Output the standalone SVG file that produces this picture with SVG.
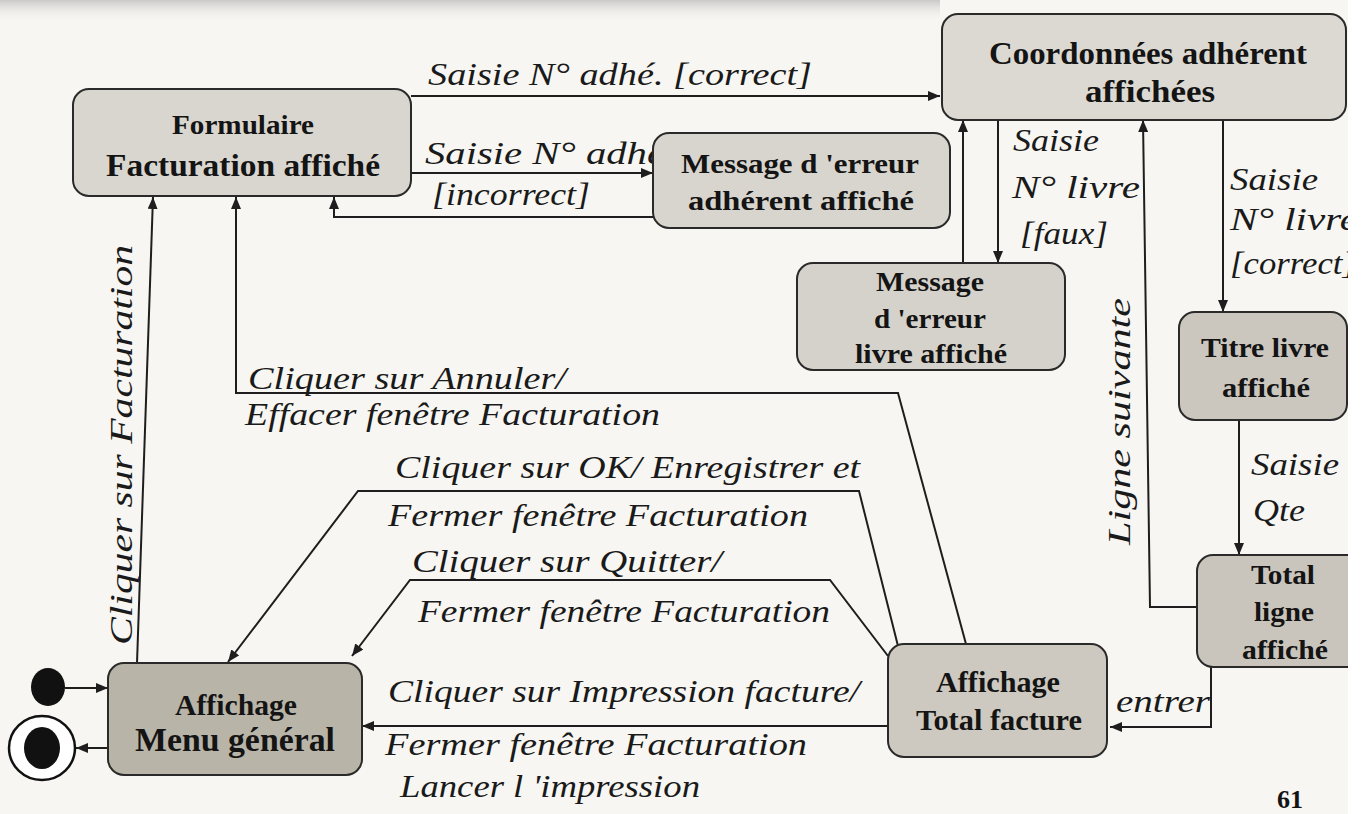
<svg xmlns="http://www.w3.org/2000/svg" width="1364" height="814" viewBox="0 0 1364 814">
<defs>
<marker id="arr" viewBox="0 0 12 10" refX="12" refY="5" markerWidth="12" markerHeight="10" markerUnits="userSpaceOnUse" orient="auto">
<path d="M0,0 L12,5 L0,10 Z" fill="#1e1e1e"/>
</marker>
<linearGradient id="topshade" x1="0" y1="0" x2="0" y2="1">
<stop offset="0" stop-color="#c9c9c9"/>
<stop offset="1" stop-color="#f7f6f2" stop-opacity="0"/>
</linearGradient>
</defs>
<style>
.node rect{stroke:#2a2a2a;stroke-width:2}
.nt{font-family:"Liberation Serif","Times New Roman",serif;font-weight:bold;fill:#141414;text-anchor:middle}
.lb{font-family:"Liberation Serif","Times New Roman",serif;font-style:italic;fill:#1a1a1a;font-size:32px}
.cn{fill:none;stroke:#1e1e1e;stroke-width:2}
.ar{marker-end:url(#arr)}
</style>
<rect x="0" y="0" width="1364" height="814" fill="#f7f6f2"/>
<rect x="0" y="0" width="940" height="22" fill="url(#topshade)"/>

<g id="connectors">
<path class="cn ar" d="M411,96 H940"/>
<text class="lb" x="428" y="85" textLength="384" lengthAdjust="spacingAndGlyphs">Saisie N° adhé. [correct]</text>
<path class="cn ar" d="M411,173 H653"/>
<text class="lb" x="425" y="164" textLength="240" lengthAdjust="spacingAndGlyphs">Saisie N° adhé</text>
<path class="cn ar" d="M653,217 H334 V197"/>
<text class="lb" x="432" y="205" textLength="158" lengthAdjust="spacingAndGlyphs">[incorrect]</text>
<path class="cn ar" d="M137,663 L153,197"/>
<text class="lb" transform="translate(132,645) rotate(-90)" x="0" y="0" textLength="400" lengthAdjust="spacingAndGlyphs">Cliquer sur Facturation</text>
<path class="cn ar" d="M966,644 L898,393 H236 V197"/>
<text class="lb" x="248" y="389" textLength="318" lengthAdjust="spacingAndGlyphs">Cliquer sur Annuler/</text>
<text class="lb" x="245" y="425" textLength="415" lengthAdjust="spacingAndGlyphs">Effacer fenêtre Facturation</text>
<path class="cn ar" d="M898,646 L859,491 H358 L228,662"/>
<text class="lb" x="395" y="478" textLength="465" lengthAdjust="spacingAndGlyphs">Cliquer sur OK/ Enregistrer et</text>
<text class="lb" x="388" y="526" textLength="420" lengthAdjust="spacingAndGlyphs">Fermer fenêtre Facturation</text>
<path class="cn ar" d="M888,656 L830,580 H410 L352,656"/>
<text class="lb" x="412" y="572" textLength="310" lengthAdjust="spacingAndGlyphs">Cliquer sur Quitter/</text>
<text class="lb" x="418" y="622" textLength="412" lengthAdjust="spacingAndGlyphs">Fermer fenêtre Facturation</text>
<path class="cn ar" d="M888,726 H362"/>
<text class="lb" x="388" y="702" textLength="472" lengthAdjust="spacingAndGlyphs">Cliquer sur Impression facture/</text>
<text class="lb" x="385" y="755" textLength="422" lengthAdjust="spacingAndGlyphs">Fermer fenêtre Facturation</text>
<text class="lb" x="400" y="797" textLength="300" lengthAdjust="spacingAndGlyphs">Lancer l 'impression</text>
<path class="cn ar" d="M998,120 V263"/>
<path class="cn ar" d="M963,263 V120"/>
<text class="lb" x="1013" y="151" textLength="86" lengthAdjust="spacingAndGlyphs">Saisie</text>
<text class="lb" x="1012" y="198" textLength="128" lengthAdjust="spacingAndGlyphs">N° livre</text>
<text class="lb" x="1020" y="244" textLength="88" lengthAdjust="spacingAndGlyphs">[faux]</text>
<path class="cn ar" d="M1197,607 H1150 L1143,120"/>
<text class="lb" transform="translate(1130,545) rotate(-90)" x="0" y="0" textLength="247" lengthAdjust="spacingAndGlyphs">Ligne suivante</text>
<path class="cn ar" d="M1223,120 V312"/>
<text class="lb" x="1230" y="190" textLength="88" lengthAdjust="spacingAndGlyphs">Saisie</text>
<text class="lb" x="1230" y="230" textLength="128" lengthAdjust="spacingAndGlyphs">N° livre</text>
<text class="lb" x="1230" y="274" textLength="126" lengthAdjust="spacingAndGlyphs">[correct]</text>
<path class="cn ar" d="M1239,420 V555"/>
<text class="lb" x="1251" y="475" textLength="88" lengthAdjust="spacingAndGlyphs">Saisie</text>
<text class="lb" x="1253" y="521" textLength="52" lengthAdjust="spacingAndGlyphs">Qte</text>
<path class="cn ar" d="M1211,667 V727 H1110"/>
<text class="lb" x="1116" y="712" textLength="94" lengthAdjust="spacingAndGlyphs">entrer</text>
<path class="cn ar" d="M65,688 H108"/>
<path class="cn ar" d="M108,748 H76"/>
</g>

<g id="initial">
<ellipse cx="48" cy="687" rx="17" ry="19" fill="#111"/>
</g>
<g id="final">
<ellipse cx="42" cy="748" rx="33" ry="32" fill="#fff" stroke="#111" stroke-width="2.5"/>
<ellipse cx="42" cy="748" rx="18" ry="21" fill="#111"/>
</g>

<g id="formulaire" class="node">
<rect x="73" y="89" width="338" height="107" rx="16" fill="#d9d6cf"/>
<text class="nt" x="243" y="134" font-size="28" textLength="142" lengthAdjust="spacingAndGlyphs">Formulaire</text>
<text class="nt" x="243" y="176" font-size="32" textLength="274" lengthAdjust="spacingAndGlyphs">Facturation affiché</text>
</g>
<g id="erreur-adherent" class="node">
<rect x="653" y="133" width="297" height="95" rx="16" fill="#d8d5ce"/>
<text class="nt" x="800" y="173" font-size="27" textLength="238" lengthAdjust="spacingAndGlyphs">Message d 'erreur</text>
<text class="nt" x="801" y="210" font-size="27" textLength="226" lengthAdjust="spacingAndGlyphs">adhérent affiché</text>
</g>
<g id="coordonnees" class="node">
<rect x="942" y="14" width="404" height="106" rx="16" fill="#dcd9d3"/>
<text class="nt" x="1148" y="64" font-size="32" textLength="318" lengthAdjust="spacingAndGlyphs">Coordonnées adhérent</text>
<text class="nt" x="1150" y="102" font-size="32" textLength="130" lengthAdjust="spacingAndGlyphs">affichées</text>
</g>
<g id="erreur-livre" class="node">
<rect x="797" y="263" width="268" height="107" rx="16" fill="#d5d2cb"/>
<text class="nt" x="930" y="291" font-size="28" textLength="108" lengthAdjust="spacingAndGlyphs">Message</text>
<text class="nt" x="930" y="328" font-size="28" textLength="112" lengthAdjust="spacingAndGlyphs">d 'erreur</text>
<text class="nt" x="931" y="363" font-size="28" textLength="152" lengthAdjust="spacingAndGlyphs">livre affiché</text>
</g>
<g id="titre-livre" class="node">
<rect x="1179" y="312" width="168" height="108" rx="16" fill="#cbc7bf"/>
<text class="nt" x="1265" y="357" font-size="28" textLength="128" lengthAdjust="spacingAndGlyphs">Titre livre</text>
<text class="nt" x="1266" y="397" font-size="28" textLength="88" lengthAdjust="spacingAndGlyphs">affiché</text>
</g>
<g id="total-ligne" class="node">
<rect x="1197" y="555" width="180" height="112" rx="16" fill="#c9c5bc"/>
<text class="nt" x="1283" y="584" font-size="27" textLength="64" lengthAdjust="spacingAndGlyphs">Total</text>
<text class="nt" x="1284" y="621" font-size="27" textLength="60" lengthAdjust="spacingAndGlyphs">ligne</text>
<text class="nt" x="1285" y="659" font-size="27" textLength="86" lengthAdjust="spacingAndGlyphs">affiché</text>
</g>
<g id="total-facture" class="node">
<rect x="888" y="644" width="219" height="113" rx="16" fill="#cdc9c0"/>
<text class="nt" x="998" y="692" font-size="30" textLength="124" lengthAdjust="spacingAndGlyphs">Affichage</text>
<text class="nt" x="999" y="730" font-size="30" textLength="166" lengthAdjust="spacingAndGlyphs">Total facture</text>
</g>
<g id="menu-general" class="node">
<rect x="108" y="663" width="254" height="112" rx="16" fill="#b9b4a8"/>
<text class="nt" x="236" y="715" font-size="30" textLength="122" lengthAdjust="spacingAndGlyphs">Affichage</text>
<text class="nt" x="235" y="751" font-size="34" textLength="200" lengthAdjust="spacingAndGlyphs">Menu général</text>
</g>

<text class="nt" x="1290" y="808" font-size="26">61</text>
<rect x="1348" y="0" width="16" height="814" fill="#ffffff"/>
</svg>
